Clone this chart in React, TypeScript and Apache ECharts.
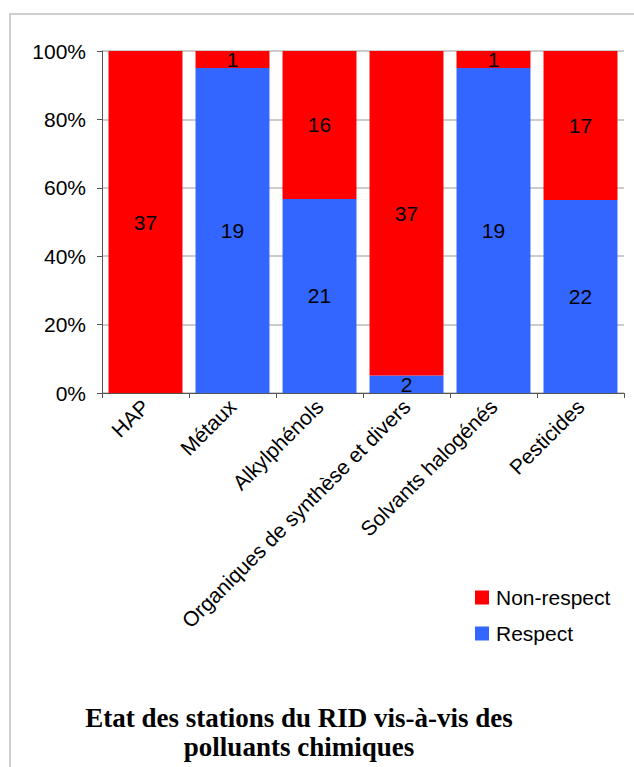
import React, { useEffect, useRef } from "react";
import * as echarts from "echarts";

const categories = [
  "HAP",
  "Métaux",
  "Alkylphénols",
  "Organiques de synthèse et divers",
  "Solvants halogénés",
  "Pesticides",
];
const respect = [0, 19, 21, 2, 19, 22];
const nonRespect = [37, 1, 16, 37, 1, 17];
const yTicks = [0, 20, 40, 60, 80, 100];

const SANS = "'Liberation Sans', Arial, sans-serif";

export default function App() {
  const ref = useRef<HTMLDivElement>(null);
  useEffect(() => {
    document.body.style.margin = "0";
    const chart = echarts.init(ref.current!, null, { renderer: "svg" });
    const totals = categories.map((_, i) => respect[i] + nonRespect[i]);
    const pct = (arr: number[]) =>
      arr.map((v, i) => ({ value: (v / totals[i]) * 100, raw: v }));
    const labelCfg = {
      show: true,
      position: "inside",
      color: "#000",
      fontSize: 21,
      fontFamily: SANS,
      formatter: (p: any) => (p.data.raw ? String(p.data.raw) : ""),
    };
    chart.setOption({
      animation: false,
      backgroundColor: "#fff",
      grid: { left: 102, right: 10, top: 51, bottom: 374, containLabel: false },
      xAxis: {
        type: "category",
        data: categories,
        axisLine: { lineStyle: { color: "#555", width: 1 } },
        axisTick: { show: true, alignWithLabel: false, length: 5, lineStyle: { color: "#555" } },
        axisLabel: {
          rotate: 45,
          interval: 0,
          color: "#000",
          fontSize: 21,
          fontFamily: SANS,
          margin: 10,
        },
      },
      yAxis: {
        type: "value",
        min: 0,
        max: 100,
        interval: 20,
        axisLine: { show: true, lineStyle: { color: "#555", width: 1 } },
        axisTick: { show: true, length: 5, inside: false, lineStyle: { color: "#555" } },
        splitLine: { lineStyle: { color: "#BBBBBB", width: 1.5 } },
        axisLabel: {
          color: "#000",
          fontSize: 21,
          fontFamily: SANS,
          margin: 16,
          formatter: (v: number) => (yTicks.includes(v) ? v + "%" : ""),
        },
      },
      legend: {
        orient: "vertical",
        left: 475,
        top: 587,
        itemWidth: 14,
        itemHeight: 14,
        itemGap: 15,
        data: ["Non-respect", "Respect"],
        icon: "rect",
        padding: 0,
        textStyle: {
          color: "#000",
          fontSize: 21,
          fontFamily: SANS,
          padding: [0, 0, 0, 2],
        },
      },
      series: [
        {
          name: "Respect",
          type: "bar",
          stack: "s",
          barCategoryGap: "15%",
          itemStyle: { color: "#3366FF" },
          label: labelCfg,
          data: pct(respect),
        },
        {
          name: "Non-respect",
          type: "bar",
          stack: "s",
          barCategoryGap: "15%",
          itemStyle: { color: "#FF0000" },
          label: labelCfg,
          data: pct(nonRespect),
        },
      ],
      graphic: [
        {
          type: "rect",
          shape: { x: 10, y: 14, width: 640, height: 800 },
          style: { fill: "none", stroke: "#C0C0C0", lineWidth: 1.5 },
          silent: true,
        },
        {
          type: "text",
          x: 299,
          y: 703,
          style: {
            text: "Etat des stations du RID vis-à-vis des\npolluants chimiques",
            font: "bold 27px 'Liberation Serif', 'Times New Roman', serif",
            fill: "#000",
            align: "center",
            verticalAlign: "top",
            lineHeight: 29,
          },
        },
      ],
    });
    return () => chart.dispose();
  }, []);
  return <div ref={ref} style={{ width: 634, height: 767 }} />;
}
